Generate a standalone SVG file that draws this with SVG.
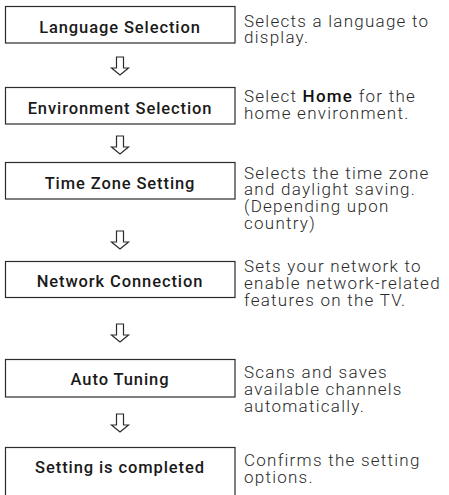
<svg xmlns="http://www.w3.org/2000/svg" width="449" height="495" viewBox="0 0 449 495">
<style>
.box{fill:#fff;stroke:#2b2b2b;stroke-width:1.2}
.lbl{font-family:Roboto,"Liberation Sans",Arial,sans-serif;font-size:16.5px;font-weight:500;fill:#1a1a1a;text-anchor:middle;letter-spacing:0.9px}
.desc{font-family:Roboto,"Liberation Sans",Arial,sans-serif;font-size:17px;font-weight:300;fill:#2a2a2a;letter-spacing:1.25px}
.arr{fill:#fff;stroke:#2b2b2b;stroke-width:1.2;stroke-linejoin:miter}
</style>
<defs>
<path id="dn" d="M -3.5 0 H 3.5 V 11 H 8.5 L 0 18 L -8.5 11 H -3.5 Z"/>
</defs>
<rect width="449" height="495" fill="#fff"/>
<g id="connectors">
<use href="#dn" class="arr" x="120" y="57"/>
<use href="#dn" class="arr" x="120" y="136"/>
<use href="#dn" class="arr" x="120" y="231"/>
<use href="#dn" class="arr" x="120" y="324"/>
<use href="#dn" class="arr" x="120" y="414"/>
</g>
<g id="n1">
<rect class="box" x="5.5" y="6.5" width="229.5" height="36.5"/>
<text class="lbl" x="120" y="32.5">Language Selection</text>
<text class="desc" x="244" y="26.5">Selects a language to<tspan x="244" dy="16.8">display.</tspan></text>
</g>
<g id="n2">
<rect class="box" x="5.5" y="87.5" width="229.5" height="36.5"/>
<text class="lbl" x="120" y="113.5">Environment Selection</text>
<text class="desc" x="244" y="102">Select <tspan font-weight="500" fill="#111">Home</tspan> for the<tspan x="244" dy="16.8">home environment.</tspan></text>
</g>
<g id="n3">
<rect class="box" x="5.5" y="162.5" width="229.5" height="36.5"/>
<text class="lbl" x="120" y="188.5">Time Zone Setting</text>
<text class="desc" x="244" y="178.5">Selects the time zone<tspan x="244" dy="16.8">and daylight saving.</tspan><tspan x="244" dy="16.8">(Depending upon</tspan><tspan x="244" dy="16.8">country)</tspan></text>
</g>
<g id="n4">
<rect class="box" x="5.5" y="261.5" width="229.5" height="36"/>
<text class="lbl" x="120" y="287">Network Connection</text>
<text class="desc" x="244" y="272">Sets your network to<tspan x="244" dy="16.8">enable network-related</tspan><tspan x="244" dy="16.8">features on the TV.</tspan></text>
</g>
<g id="n5">
<rect class="box" x="5.5" y="359.5" width="229.5" height="37.5"/>
<text class="lbl" x="120" y="385">Auto Tuning</text>
<text class="desc" x="244" y="378">Scans and saves<tspan x="244" dy="16.8">available channels</tspan><tspan x="244" dy="16.8">automatically.</tspan></text>
</g>
<g id="n6">
<rect class="box" x="5.5" y="447.5" width="229.5" height="60"/>
<text class="lbl" x="120" y="473">Setting is completed</text>
<text class="desc" x="244" y="466">Confirms the setting<tspan x="244" dy="16.8">options.</tspan></text>
</g>
</svg>
